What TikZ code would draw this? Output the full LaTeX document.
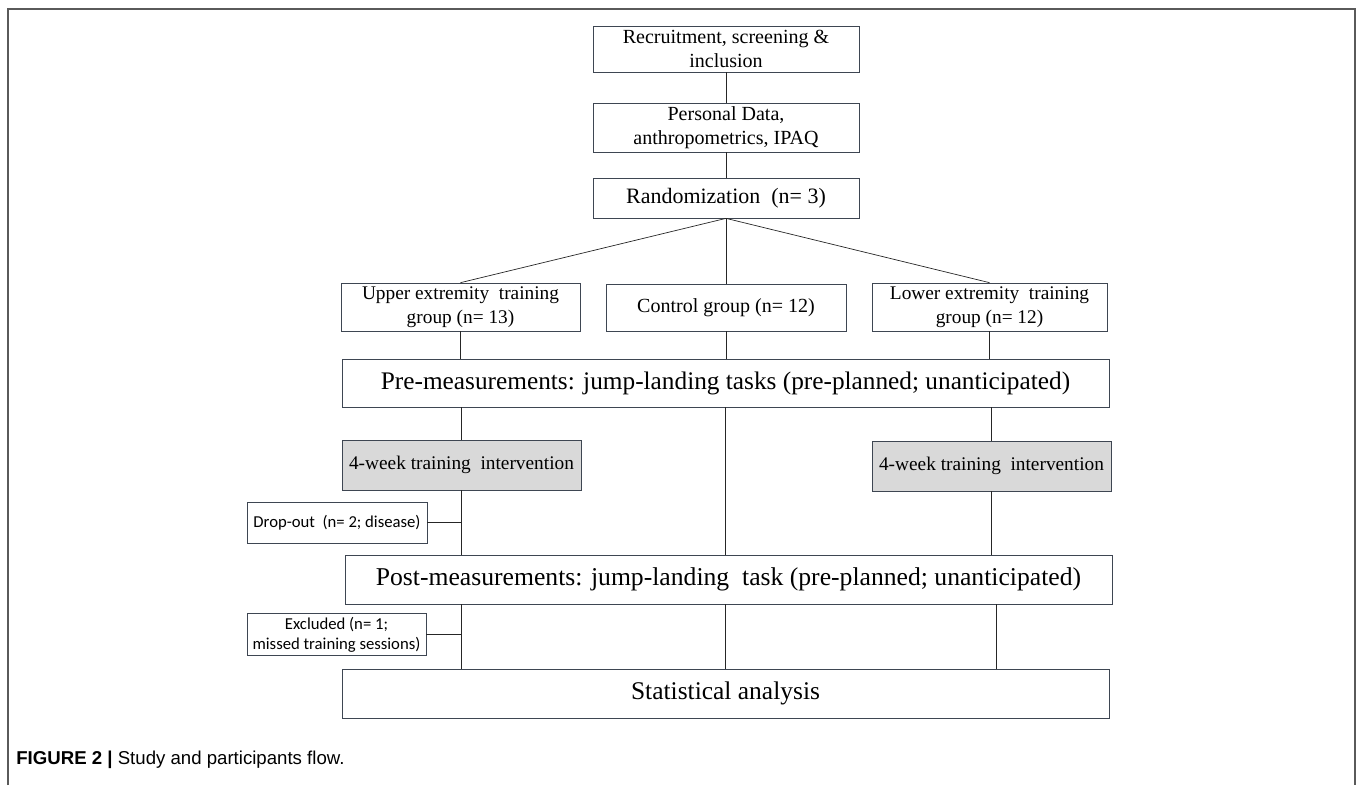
\documentclass[tikz,border=0pt]{standalone}
\usepackage{fontspec}
\setmainfont{Liberation Serif}
\newfontfamily\calfont{Carlito}
\newfontfamily\capfont{Liberation Sans}
\usetikzlibrary{positioning}
\definecolor{boxline}{RGB}{62,70,82}
\definecolor{boxgray}{RGB}{217,217,217}
\definecolor{framegray}{RGB}{90,90,90}
\tikzset{
  box/.style = {draw=boxline, fill=white, align=center, inner sep=2pt},
  graybox/.style = {box, fill=boxgray},
  sidebox/.style = {box, font=\calfont\fontsize{9.5}{11.5}\selectfont},
  link/.style = {draw=black!85, thin}
}

\begin{document}
\begin{tikzpicture}[x=0.02cm, y=-0.02cm]
  \useasboundingbox (0,0) rectangle (1358,785);
  % frame round the figure
  \draw [framegray, line width=0.8pt] (8,785) -- (8,9) -- (1355,9) -- (1355,785);

  % top column
  \node [box, minimum width=5.32cm, minimum height=0.92cm, font=\fontsize{11.4}{13.5}\selectfont] (recruit) at (726,49) {Recruitment, screening \&\\inclusion};
  \node [box, minimum width=5.32cm, minimum height=0.94cm, font=\fontsize{11.4}{13.5}\selectfont] (personal) at (726,127.5) {Personal Data,\\anthropometrics, IPAQ};
  \node [box, minimum width=5.32cm, minimum height=0.80cm, font=\fontsize{12.5}{15}\selectfont] (random) at (726,198) {Randomization\ \ (n= 3)};

  % groups
  \node [box, minimum width=4.78cm, minimum height=0.96cm, font=\fontsize{11}{13.5}\selectfont] (upper) at (460.5,307) {Upper extremity\ \ training\\group (n= 13)};
  \node [box, minimum width=4.80cm, minimum height=0.94cm, font=\fontsize{11.4}{13.5}\selectfont] (control) at (726,307.5) {Control group (n= 12)};
  \node [box, minimum width=4.70cm, minimum height=0.96cm, font=\fontsize{11}{13.5}\selectfont] (lower) at (989.5,307) {Lower extremity\ \ training\\group (n= 12)};

  % measurements and training
  \node [box, minimum width=15.34cm, minimum height=0.96cm, font=\fontsize{14.4}{16}\selectfont] (pre) at (725.5,383) {Pre-measurements: jump-landing tasks (pre-planned; unanticipated)};
  \node [graybox, minimum width=4.78cm, minimum height=1.00cm, font=\fontsize{11}{13.5}\selectfont] (train1) at (461.5,465) {4-week\ training\ \ intervention};
  \node [graybox, minimum width=4.78cm, minimum height=1.00cm, font=\fontsize{11}{13.5}\selectfont] (train2) at (991.5,466) {4-week\ training\ \ intervention};
  \node [sidebox, minimum width=3.60cm, minimum height=0.82cm] (dropout) at (337,522.5) {Drop-out\ \ (n= 2; disease)};
  \node [box, minimum width=15.34cm, minimum height=0.98cm, font=\fontsize{14.6}{16}\selectfont] (post) at (728.5,579.5) {Post-measurements: jump-landing\ \ task (pre-planned; unanticipated)};
  \node [sidebox, minimum width=3.58cm, minimum height=0.82cm] (excluded) at (336.5,634.5) {Excluded (n= 1;\\missed training sessions)};
  \node [box, minimum width=15.34cm, minimum height=0.98cm, font=\fontsize{14.5}{16}\selectfont] (stats) at (725.5,693.5) {Statistical analysis};

  % caption
  \node [anchor=west, inner sep=0pt, font=\capfont\fontsize{10.6}{12}\selectfont] (caption) at (16,760) {\textbf{FIGURE 2 |} Study and participants flow.};

  % links down the top column
  \draw [link] (recruit) -- (personal);
  \draw [link] (personal) -- (random);
  \draw [link] (random.south) -- (upper.north);
  \draw [link] (random.south) -- (control.north);
  \draw [link] (random.south) -- (lower.north);

  % groups to pre-measurements
  \draw [link] (upper.south) -- (upper.south |- pre.north);
  \draw [link] (control.south) -- (control.south |- pre.north);
  \draw [link] (lower.south) -- (lower.south |- pre.north);

  % pre-measurements to training and post-measurements
  \draw [link] (train1.north |- pre.south) -- (train1.north);
  \draw [link] (train2.north |- pre.south) -- (train2.north);
  \draw [link] (pre.south) -- (pre.south |- post.north);
  \draw [link] (train1.south) -- (train1.south |- post.north);
  \draw [link] (train2.south) -- (train2.south |- post.north);
  \draw [link] (dropout.east) -- (dropout.east -| train1.south);

  % post-measurements to analysis
  \draw [link] (train1.south |- post.south) -- (train1.south |- stats.north);
  \draw [link] (pre.south |- post.south) -- (pre.south |- stats.north);
  \draw [link] (996,604) coordinate (postR) -- (postR |- stats.north);
  \draw [link] (excluded.east) -- (excluded.east -| train1.south);
\end{tikzpicture}
\end{document}
